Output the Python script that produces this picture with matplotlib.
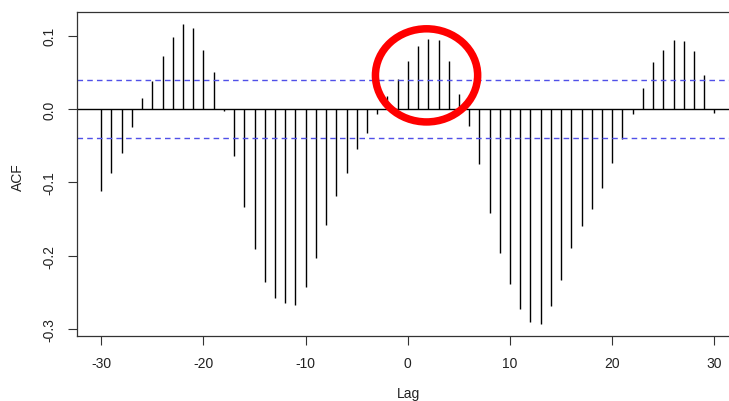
import numpy as np
import matplotlib
matplotlib.use('Agg')
import matplotlib.pyplot as plt
from matplotlib.patches import Ellipse

plt.rcParams['font.family'] = ['Liberation Sans', 'DejaVu Sans']
plt.rcParams['axes.unicode_minus'] = False

# cross-correlation values, lag -30 .. 30
lags = np.arange(-30, 31)
acf = [-0.111, -0.087, -0.060, -0.024, 0.015, 0.038, 0.072, 0.099, 0.116, 0.110,
       0.080, 0.050, -0.002, -0.064, -0.133, -0.191, -0.236, -0.258, -0.265, -0.267,
       -0.242, -0.203, -0.158, -0.118, -0.087, -0.055, -0.033, -0.006, 0.018, 0.041,
       0.065,
       0.086, 0.096, 0.094, 0.065, 0.020, -0.023, -0.075, -0.141, -0.196, -0.239,
       -0.273, -0.290, -0.293, -0.268, -0.233, -0.189, -0.159, -0.136, -0.108, -0.073,
       -0.041, -0.007, 0.029, 0.064, 0.081, 0.094, 0.093, 0.079, 0.046, -0.005]
ci = 0.0395
xticks = [-30, -20, -10, 0, 10, 20, 30]
yticks = [-0.3, -0.2, -0.1, 0.0, 0.1]

fig = plt.figure(figsize=(7.29, 4.02), dpi=100)
ax = fig.add_axes([76.7 / 729, 65.3 / 402, 662.3 / 729, 323.4 / 402])

ax.vlines(lags, 0, acf, color='black', lw=1.0)
ax.axhline(0, color='black', lw=1.0)
ax.axhline(ci, color='#5050e8', lw=1.0, ls=(0, (4, 3)))
ax.axhline(-ci, color='#5050e8', lw=1.0, ls=(0, (4, 3)))

# red highlight circle
ax.add_patch(Ellipse((1.83, 0.046), 10.0, 0.127, fill=False,
                     edgecolor='red', lw=5.4, zorder=5))

ax.set_xlim(-32.4, 32.4)
ax.set_ylim(-0.309, 0.132)
ax.set_xticks(xticks)
ax.set_xticklabels([str(t) for t in xticks])
ax.set_yticks(yticks)
ax.set_yticklabels(['%.1f' % t for t in yticks])
ax.tick_params(length=6.3, width=0.8, color='#333333', labelsize=10,
               pad=8, labelcolor='#222222')
plt.setp(ax.get_yticklabels(), rotation=90, va='center')
for s in ax.spines.values():
    s.set_color('#333333')
    s.set_linewidth(0.9)

fig.text(18 / 729, 1 - 177 / 402, 'ACF', rotation=90, ha='center', va='center',
         fontsize=10, color='#222222')
fig.text(408 / 729, 1 - 394 / 402, 'Lag', ha='center', va='center',
         fontsize=10, color='#222222')

fig.savefig('out.png', dpi=100)
